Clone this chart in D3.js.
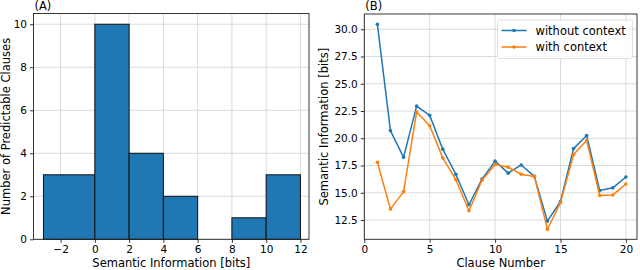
<!DOCTYPE html>
<html>
<head>
<meta charset="utf-8">
<script src="https://cdn.jsdelivr.net/npm/d3@7"></script>
<style>
  body { margin: 0; background: #fff; }
  svg text { font-family: "DejaVu Sans", sans-serif; fill: #000; }
</style>
</head>
<body>
<div id="chart"></div>
<script>
// histogram (A)
var binEdges = [-3, 0, 2, 4, 6, 8, 10, 12];
var binCounts = [3, 10, 4, 2, 0, 1, 3];
var histXTicks = [-2, 0, 2, 4, 6, 8, 10, 12];
var histYTicks = [0, 2, 4, 6, 8, 10];

// line chart (B)
var clauses = d3.range(1, 21);
var withoutContext = [30.45, 20.7, 18.25, 22.95, 22.1, 19.0, 16.7, 13.9, 16.25, 17.9,
                      16.8, 17.55, 16.5, 12.4, 14.2, 19.05, 20.25, 15.2, 15.45, 16.45];
var withContext = [17.8, 13.5, 15.1, 22.4, 21.15, 18.2, 16.2, 13.35, 16.15, 17.6,
                   17.35, 16.7, 16.5, 11.65, 14.1, 18.5, 19.8, 14.75, 14.8, 15.8];
var lineXTicks = [0, 5, 10, 15, 20];
var lineYTicks = [12.5, 15.0, 17.5, 20.0, 22.5, 25.0, 27.5, 30.0];

var blue = "#1f77b4", orange = "#ff7f0e";
var labelSize = "11.5px", tickSize = "10.5px";

var svg = d3.select("#chart").append("svg")
    .attr("width", 640)
    .attr("height", 270);

function drawGrid(g, x, y, xTicks, yTicks) {
    var w = x.range()[1] - x.range()[0];
    var h = y.range()[0] - y.range()[1];

    g.append("g").selectAll("line").data(xTicks).enter().append("line")
        .attr("x1", function(d) { return x(d); })
        .attr("x2", function(d) { return x(d); })
        .attr("y1", 0).attr("y2", h)
        .style("stroke", "#d6d6d6").style("stroke-width", 0.9);
    g.append("g").selectAll("line").data(yTicks).enter().append("line")
        .attr("y1", function(d) { return y(d); })
        .attr("y2", function(d) { return y(d); })
        .attr("x1", 0).attr("x2", w)
        .style("stroke", "#d6d6d6").style("stroke-width", 0.9);
}

function drawAxes(g, x, y, xTicks, yTicks, yFmt) {
    var h = y.range()[0];
    var xAxis = d3.axisBottom(x).tickValues(xTicks).tickSizeOuter(0).tickSize(3.5).tickPadding(3)
        .tickFormat(function(d) { return d < 0 ? "\u2212" + Math.abs(d) : d; });
    var yAxis = d3.axisLeft(y).tickValues(yTicks).tickSizeOuter(0).tickSize(3.5).tickPadding(3)
        .tickFormat(yFmt);

    var gx = g.append("g").attr("transform", "translate(0," + h + ")").call(xAxis);
    var gy = g.append("g").call(yAxis);
    [gx, gy].forEach(function(a) {
        a.select(".domain").remove();
        a.selectAll("text").style("font-size", tickSize).style("font-family", "DejaVu Sans");
        a.selectAll("line").style("stroke", "#000").style("stroke-width", 0.8);
    });

    // frame
    g.append("rect")
        .attr("x", x.range()[0]).attr("y", y.range()[1])
        .attr("width", x.range()[1] - x.range()[0])
        .attr("height", y.range()[0] - y.range()[1])
        .style("fill", "none").style("stroke", "#222").style("stroke-width", 0.9);
}

// ---------- panel A ----------
var ax = { left: 33.5, top: 13.5, right: 309, bottom: 239.3 };
var gA = svg.append("g").attr("transform", "translate(" + ax.left + "," + ax.top + ")");
var xA = d3.scaleLinear().domain([-3.58, 12.5]).range([0, ax.right - ax.left]);
var yA = d3.scaleLinear().domain([0, 10.5]).range([ax.bottom - ax.top, 0]);

drawGrid(gA, xA, yA, histXTicks, histYTicks);

var bins = binCounts.map(function(c, i) { return { x0: binEdges[i], x1: binEdges[i + 1], count: c }; });
gA.selectAll("rect.bar").data(bins).enter().append("rect")
    .attr("class", "bar")
    .attr("x", function(d) { return xA(d.x0); })
    .attr("width", function(d) { return xA(d.x1) - xA(d.x0); })
    .attr("y", function(d) { return yA(d.count); })
    .attr("height", function(d) { return yA(0) - yA(d.count); })
    .style("fill", blue)
    .style("stroke", "#111")
    .style("stroke-width", 1);

drawAxes(gA, xA, yA, histXTicks, histYTicks, d3.format("d"));

gA.append("text")
    .attr("x", 1).attr("y", 9.5 - ax.top)
    .style("font-size", labelSize)
    .text("(A)");
gA.append("text")
    .attr("x", (ax.right - ax.left) / 2).attr("y", 267 - ax.top)
    .attr("text-anchor", "middle")
    .style("font-size", labelSize)
    .text("Semantic Information [bits]");
gA.append("text")
    .attr("transform", "translate(" + (10 - ax.left) + "," + ((ax.bottom - ax.top) / 2) + ") rotate(-90)")
    .attr("text-anchor", "middle")
    .style("font-size", labelSize)
    .text("Number of Predictable Clauses");

// ---------- panel B ----------
var bx = { left: 364.3, top: 14, right: 637, bottom: 239.3 };
var gB = svg.append("g").attr("transform", "translate(" + bx.left + "," + bx.top + ")");
var xB = d3.scaleLinear().domain([0, 20.85]).range([0, bx.right - bx.left]);
var yB = d3.scaleLinear().domain([10.73, 31.4]).range([bx.bottom - bx.top, 0]);

drawGrid(gB, xB, yB, lineXTicks, lineYTicks);

var series = [
    { name: "without context", values: withoutContext, color: blue },
    { name: "with context", values: withContext, color: orange }
];
var line = d3.line()
    .x(function(d, i) { return xB(clauses[i]); })
    .y(function(d) { return yB(d); });

series.forEach(function(s) {
    gB.append("path")
        .datum(s.values)
        .attr("d", line)
        .style("fill", "none")
        .style("stroke", s.color)
        .style("stroke-width", 1.5)
        .style("stroke-linejoin", "round");
    gB.append("g").selectAll("circle").data(s.values).enter().append("circle")
        .attr("cx", function(d, i) { return xB(clauses[i]); })
        .attr("cy", function(d) { return yB(d); })
        .attr("r", 1.8)
        .style("fill", s.color);
});

drawAxes(gB, xB, yB, lineXTicks, lineYTicks, d3.format(".1f"));

gB.append("text")
    .attr("x", 1).attr("y", 9.5 - bx.top)
    .style("font-size", labelSize)
    .text("(B)");
gB.append("text")
    .attr("x", (bx.right - bx.left) / 2).attr("y", 267 - bx.top)
    .attr("text-anchor", "middle")
    .style("font-size", labelSize)
    .text("Clause Number");
gB.append("text")
    .attr("transform", "translate(" + (328 - bx.left) + "," + ((bx.bottom - bx.top) / 2) + ") rotate(-90)")
    .attr("text-anchor", "middle")
    .style("font-size", labelSize)
    .text("Semantic Information [bits]");

// legend
var lg = gB.append("g").attr("transform", "translate(" + (497.5 - bx.left) + "," + (20 - bx.top) + ")");
lg.append("rect")
    .attr("width", 135).attr("height", 38.5)
    .attr("rx", 2)
    .style("fill", "#fff").style("fill-opacity", 0.85)
    .style("stroke", "#ddd").style("stroke-width", 0.9);
series.forEach(function(s, i) {
    var yy = 10.5 + i * 16.5;
    lg.append("line")
        .attr("x1", 4).attr("x2", 29).attr("y1", yy).attr("y2", yy)
        .style("stroke", s.color).style("stroke-width", 1.5);
    lg.append("circle").attr("cx", 16.5).attr("cy", yy).attr("r", 1.8).style("fill", s.color);
    lg.append("text")
        .attr("x", 38).attr("y", yy + 4)
        .style("font-size", labelSize)
        .text(s.name);
});
</script>
</body>
</html>
